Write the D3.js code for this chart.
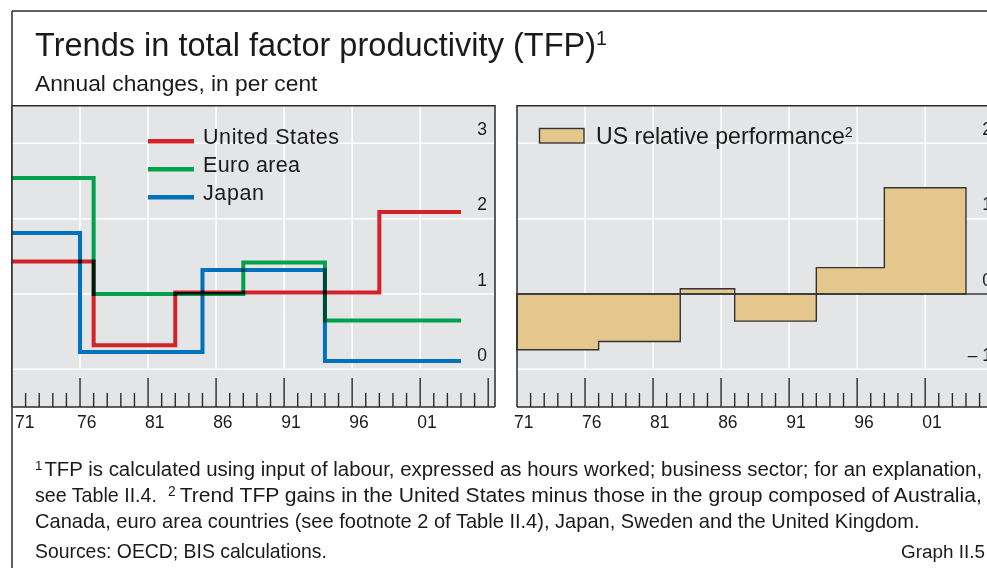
<!DOCTYPE html>
<html><head><meta charset="utf-8">
<script src="https://cdn.jsdelivr.net/npm/d3@7"></script>
<style>
html,body{margin:0;padding:0;background:#fff;}
svg{display:block;font-family:"Liberation Sans",Arial,sans-serif;}
</style></head>
<body><svg id="c" width="987" height="568"></svg>
<script>
// ---------- DATA ----------
const xStart = 1971, xEnd = 2006.5, seriesEnd = 2004;
const majorYears = [1976, 1981, 1986, 1991, 1996, 2001, 2006];
const yearLabels = ["71", "76", "81", "86", "91", "96", "01"];
const labelYears = [1971, 1976, 1981, 1986, 1991, 1996, 2001];
const leftTicks = [0, 1, 2, 3];
const rightTicks = [-1, 0, 1, 2];
const rightTickLabels = ["\u2013 1", "0", "1", "2"];
// step series: [start year, value]
const usSteps    = [[1971, 1.43], [1977, 0.32], [1983, 1.02], [1998, 2.09]];
const euroSteps  = [[1971, 2.54], [1977, 1.00], [1988, 1.42], [1994, 0.65]];
const japanSteps = [[1971, 1.81], [1976, 0.23], [1985, 1.32], [1994, 0.11]];
const relSteps   = [[1971, -0.74], [1977, -0.63], [1983, 0.07], [1987, -0.36], [1993, 0.35], [1998, 1.41]];
const seriesNames = ["United States", "Euro area", "Japan"];
const seriesColors = ["#d2232a", "#00a14b", "#0072bc"];

// ---------- LAYOUT ----------
const svg = d3.select("#c");
const ink = "#2b2b2b";
const yTop = 105.7, yBottom = 407;
const panels = [
  {x0: 12, x1: 495, domain: [-0.5, 3.5]},
  {x0: 517, x1: 1000, domain: [-1.5, 2.5]}
];
panels.forEach(p => {
  p.x = d3.scaleLinear().domain([xStart, xEnd]).range([p.x0, p.x1]);
  p.y = d3.scaleLinear().domain(p.domain).range([yBottom, yTop]);
});

function fit(sel, width) {
  const n = sel.node();
  const fs = parseFloat(sel.attr("font-size"));
  const w = n.getBBox().width;
  if (w > 0) sel.attr("font-size", (fs * width / w).toFixed(2));
  return sel;
}

// outer frame
svg.append("line").attr("x1", 12).attr("x2", 987).attr("y1", 11).attr("y2", 11).attr("stroke", ink).attr("stroke-width", 1.5);
svg.append("line").attr("x1", 12).attr("x2", 12).attr("y1", 11).attr("y2", 568).attr("stroke", ink).attr("stroke-width", 1.5);

// titles
const title = svg.append("text").attr("x", 35).attr("y", 56).attr("font-size", 30).attr("fill", "#1a1a1a");
title.append("tspan").text("Trends in total factor productivity (TFP)");
title.append("tspan").text("1").attr("font-size", "0.6em").attr("dy", -11);
fit(title, 572);
fit(svg.append("text").attr("x", 35).attr("y", 91).attr("font-size", 20).attr("fill", "#1a1a1a").text("Annual changes, in per cent"), 283);

// panels
panels.forEach((p, i) => {
  const g = svg.append("g");
  const yZeroGrid = i === 0 ? p.y(0) : p.y(-1);
  g.append("rect").attr("x", p.x0).attr("y", yTop).attr("width", p.x1 - p.x0).attr("height", yBottom - yTop).attr("fill", "#e4e5e7");
  const ticks = i === 0 ? leftTicks : rightTicks;
  g.selectAll(".hg").data(ticks).join("line")
    .attr("x1", p.x0).attr("x2", p.x1).attr("y1", d => p.y(d)).attr("y2", d => p.y(d))
    .attr("stroke", "#fff").attr("stroke-width", 1.5);
  g.selectAll(".vg").data(majorYears.filter(d => d < 2006)).join("line")
    .attr("x1", d => p.x(d)).attr("x2", d => p.x(d)).attr("y1", yTop).attr("y2", yZeroGrid)
    .attr("stroke", "#fff").attr("stroke-width", 1.5);
  p.g = g;
});

// left panel series (multiply blend like print overprint)
const P0 = panels[0];
const lineGen = d3.line().x(d => P0.x(d[0])).y(d => P0.y(d[1])).curve(d3.curveStepAfter);
const lg = P0.g.append("g").style("isolation", "isolate");
[usSteps, euroSteps, japanSteps].forEach((s, i) => {
  const pts = s.concat([[seriesEnd, s[s.length - 1][1]]]);
  lg.append("path").attr("d", lineGen(pts)).attr("fill", "none")
    .attr("stroke", seriesColors[i]).attr("stroke-width", 4).style("mix-blend-mode", "multiply");
});
const legendWidths = [136, 97, 61];
seriesNames.forEach((n, i) => {
  const yy = 141.3 + i * 28;
  P0.g.append("line").attr("x1", 148).attr("x2", 194).attr("y1", yy).attr("y2", yy)
    .attr("stroke", seriesColors[i]).attr("stroke-width", 4.5);
  P0.g.append("text").attr("x", 203).attr("y", yy + 3).attr("font-size", 21.5).attr("fill", "#1a1a1a")
    .attr("textLength", legendWidths[i]).attr("lengthAdjust", "spacing").text(n);
});

// right panel area
const P1 = panels[1];
const relPts = relSteps.concat([[seriesEnd, relSteps[relSteps.length - 1][1]]]);
const areaGen = d3.area().x(d => P1.x(d[0])).y0(P1.y(0)).y1(d => P1.y(d[1])).curve(d3.curveStepAfter);
P1.g.append("path").attr("d", areaGen(relPts)).attr("fill", "#e5c68c").attr("stroke", "#333").attr("stroke-width", 1.4);
P1.g.append("line").attr("x1", P1.x0).attr("x2", P1.x1).attr("y1", P1.y(0)).attr("y2", P1.y(0)).attr("stroke", "#333").attr("stroke-width", 1.4);
P1.g.append("rect").attr("x", 539.5).attr("y", 128.5).attr("width", 44.5).attr("height", 14.5)
  .attr("fill", "#e5c68c").attr("stroke", "#333").attr("stroke-width", 1.4);
const rl = P1.g.append("text").attr("x", 596).attr("y", 144).attr("font-size", 20).attr("fill", "#1a1a1a");
rl.append("tspan").text("US relative performance");
rl.append("tspan").text("2").attr("font-size", "0.62em").attr("dy", -7);

// axes, ticks, borders, labels
panels.forEach((p, i) => {
  const g = p.g;
  const allYears = d3.range(1972, 2007);
  g.selectAll(".tk").data(allYears).join("line")
    .attr("x1", d => p.x(d)).attr("x2", d => p.x(d))
    .attr("y1", d => majorYears.includes(d) ? yBottom - 29 : yBottom - 14).attr("y2", yBottom)
    .attr("stroke", ink).attr("stroke-width", 1.4);
  g.append("path").attr("d", `M${p.x0},${yBottom}V${yTop}H${p.x1}V${yBottom}`).attr("fill", "none").attr("stroke", ink).attr("stroke-width", 1.5);
  g.append("line").attr("x1", p.x0).attr("x2", p.x1).attr("y1", yBottom).attr("y2", yBottom).attr("stroke", ink).attr("stroke-width", 1.6);
  g.selectAll(".xl").data(labelYears).join("text")
    .attr("x", (d, j) => (i === 0 && j === 0) ? p.x0 + 3 : p.x(d + 0.5))
    .attr("y", 428).attr("font-size", 17.5).attr("fill", "#1a1a1a")
    .attr("text-anchor", (d, j) => (i === 0 && j === 0) ? "start" : "middle")
    .text((d, j) => yearLabels[j]);
  const ticks = i === 0 ? leftTicks : rightTicks;
  g.selectAll(".yl").data(ticks).join("text")
    .attr("x", p.x1 - 8).attr("y", d => p.y(d) - 8.5).attr("font-size", 17.5).attr("fill", "#1a1a1a")
    .attr("text-anchor", "end")
    .text((d, j) => i === 0 ? String(d) : rightTickLabels[j]);
});
fit(rl, 257);

// footnotes
const fn1 = svg.append("text").attr("x", 35).attr("y", 476).attr("font-size", 17).attr("fill", "#1a1a1a");
fn1.append("tspan").text("1").attr("font-size", "0.65em").attr("dy", -6);
fn1.append("tspan").text("TFP is calculated using input of labour, expressed as hours worked; business sector; for an explanation,").attr("dy", 6).attr("dx", 2);
fit(fn1, 948);
fit(svg.append("text").attr("x", 35).attr("y", 502).attr("font-size", 17).attr("fill", "#1a1a1a").text("see Table II.4."), 122);
const fn2 = svg.append("text").attr("x", 168).attr("y", 502).attr("font-size", 17).attr("fill", "#1a1a1a");
fn2.append("tspan").text("2").attr("font-size", "0.65em").attr("dy", -6);
fn2.append("tspan").text("Trend TFP gains in the United States minus those in the group composed of Australia,").attr("dy", 6).attr("dx", 4);
fit(fn2, 815);
fit(svg.append("text").attr("x", 35).attr("y", 528).attr("font-size", 17).attr("fill", "#1a1a1a")
  .text("Canada, euro area countries (see footnote 2 of Table II.4), Japan, Sweden and the United Kingdom."), 885);
fit(svg.append("text").attr("x", 35).attr("y", 558).attr("font-size", 17).attr("fill", "#1a1a1a").text("Sources: OECD; BIS calculations."), 292);
fit(svg.append("text").attr("x", 985).attr("y", 558).attr("font-size", 17).attr("fill", "#1a1a1a").attr("text-anchor", "end").text("Graph II.5"), 84);
</script></body></html>
